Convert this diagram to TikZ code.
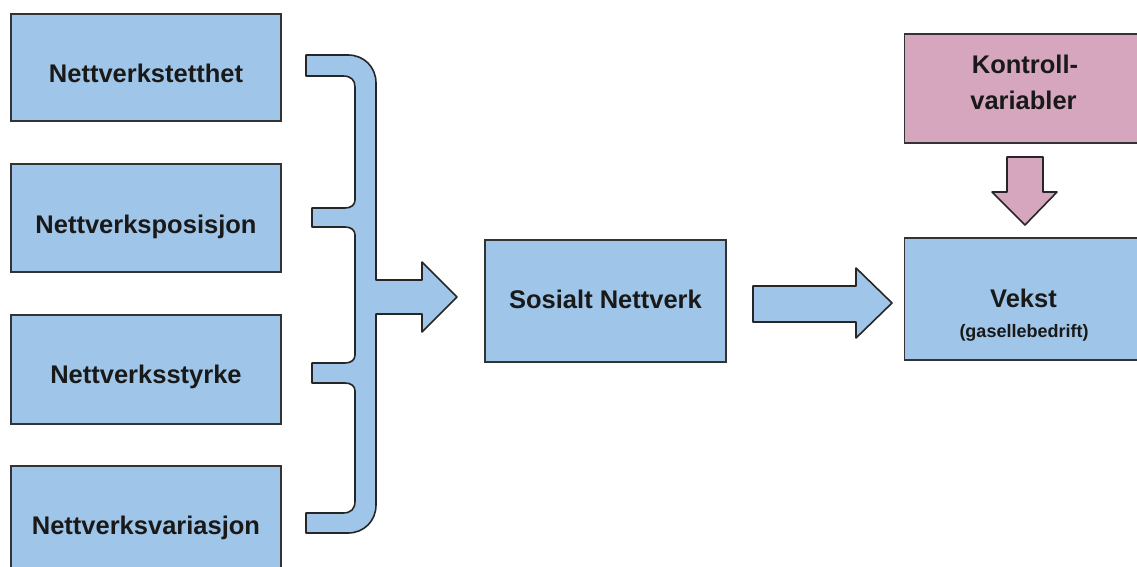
\documentclass[tikz,border=0pt]{standalone}
\usepackage{fontspec}
\setmainfont{Liberation Sans}
\begin{document}
\begin{tikzpicture}[x=1pt,y=-1pt,
  box/.style={draw=black!80,line width=1.4pt,fill=boxblue,rectangle,inner sep=0pt},
  pinkbox/.style={box,fill=boxpink},
  lbl/.style={anchor=base,font=\bfseries\fontsize{25.5}{35}\selectfont,text=black!90,inner sep=0pt},
  small/.style={anchor=base,font=\bfseries\fontsize{18}{20}\selectfont,text=black!90,inner sep=0pt},
  blockarrow/.style={draw=black!85,line width=1.6pt,line join=round,fill=boxblue}]
\definecolor{boxblue}{HTML}{9FC5E8}
\definecolor{boxpink}{HTML}{D5A6BD}
\useasboundingbox (0,0) rectangle (1137,567);
\clip (0,0) rectangle (1137,567);

% four network measures on the left
\node[box,minimum width=270pt,minimum height=107pt] (dens) at (146,67.5) {};
\node[box,minimum width=270pt,minimum height=108pt] (pos)  at (146,218) {};
\node[box,minimum width=270pt,minimum height=109pt] (str)  at (146,369.5) {};
\node[box,minimum width=270pt,minimum height=108pt] (var)  at (146,520) {};
\node[lbl] (densT) at (146,83)  {Nettverkstetthet};
\node[lbl] (posT)  at (146,233) {Nettverksposisjon};
\node[lbl] (strT)  at (146,383) {Nettverksstyrke};
\node[lbl] (varT)  at (146,534) {Nettverksvariasjon};

% social network
\node[box,minimum width=241pt,minimum height=122pt] (soc) at (605.5,301) {};
\node[lbl] (socT) at (605.5,308) {Sosialt Nettverk};

% growth and control variables
\node[box,minimum width=250pt,minimum height=122pt,anchor=west] (vek) at (904,299) {};
\node[lbl] (vekT) at (1023.5,307) {Vekst};
\node[small] (gasT) at (1024,337) {(gasellebedrift)};
\node[pinkbox,minimum width=250pt,minimum height=109pt,anchor=west] (kon) at (904,88.5) {};
\node[lbl] (konT1) at (1025,73.5) {Kontroll-};
\node[lbl] (konT2) at (1023.5,110) {variabler};

% brace gathering the four measures into one arrow
\draw[blockarrow]
  (306,55) -- (348,55) .. controls (364,55) and (376,67) .. (376,83)
  -- (376,280) -- (422,280) -- (422,262) -- (457,297) -- (422,332) -- (422,314)
  -- (376,314) -- (376,505) .. controls (376,521) and (364,533) .. (348,533)
  -- (306,533) -- (306,513) -- (343,513) .. controls (351,513) and (355,509) .. (355,501)
  -- (355,391) .. controls (355,386) and (351,383) .. (345,383)
  -- (312,383) -- (312,363) -- (345,363) .. controls (351,363) and (355,360) .. (355,355)
  -- (355,235) .. controls (355,230) and (351,227) .. (345,227)
  -- (312,227) -- (312,208) -- (345,208) .. controls (351,208) and (355,205) .. (355,200)
  -- (355,87) .. controls (355,80) and (351,76) .. (343,76)
  -- (306,76) -- cycle;

% arrow from social network to growth
\draw[blockarrow]
  (753,286) -- (856,286) -- (856,268) -- (892,303) -- (856,338) -- (856,322) -- (753,322) -- cycle;

% arrow from control variables down to growth
\draw[blockarrow,fill=boxpink]
  (1007,157) -- (1043,157) -- (1043,192) -- (1057,192) -- (1025,225) -- (992,192) -- (1007,192) -- cycle;
\end{tikzpicture}
\end{document}
